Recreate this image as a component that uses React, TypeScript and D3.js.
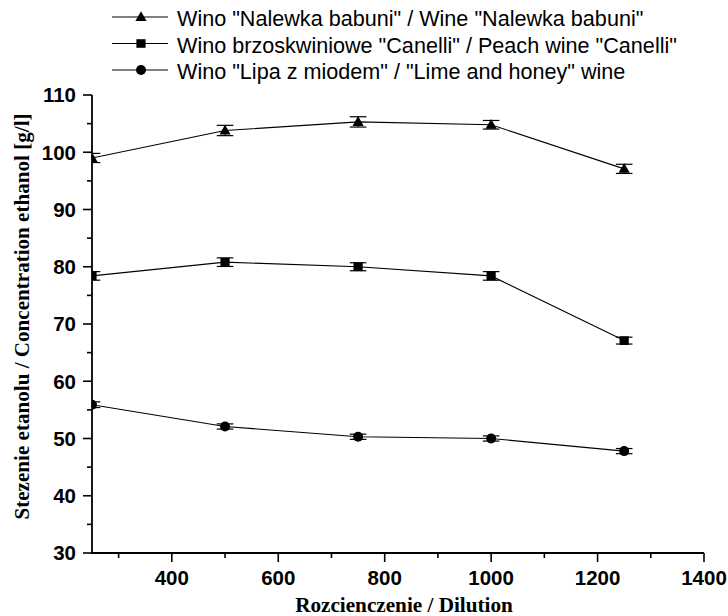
import React from "react";
import * as d3 from "d3";

const dilution = [250, 500, 750, 1000, 1250];
const nalewka = [99.0, 103.8, 105.3, 104.8, 97.1];
const nalewkaErr = [0.8, 0.9, 0.9, 0.75, 0.8];
const canelli = [78.4, 80.8, 80.0, 78.4, 67.1];
const canelliErr = [0.75, 0.75, 0.7, 0.75, 0.6];
const lipa = [55.9, 52.1, 50.3, 50.0, 47.8];
const lipaErr = [0.5, 0.45, 0.45, 0.45, 0.45];

const seriesNames = [
  'Wino "Nalewka babuni" / Wine "Nalewka babuni"',
  'Wino brzoskwiniowe "Canelli" / Peach wine "Canelli"',
  'Wino "Lipa z miodem" / "Lime and honey" wine',
];
const seriesShapes = ["triangle", "square", "circle"];

const xMajorTicks = [400, 600, 800, 1000, 1200, 1400];
const xMinorTicks = [300, 500, 700, 900, 1100, 1300];
const yMajorTicks = [30, 40, 50, 60, 70, 80, 90, 100, 110];
const yMinorTicks = [35, 45, 55, 65, 75, 85, 95, 105];

const xTitle = "Rozcienczenie / Dilution";
const yTitle = "Stezenie etanolu / Concentration ethanol [g/l]";

const W = 728;
const H = 616;
const left = 92;
const right = 704;
const top = 95;
const bottom = 553;

const x = d3.scaleLinear().domain([250, 1400]).range([left, right]);
const y = d3.scaleLinear().domain([30, 110]).range([bottom, top]);

const sans = "Arial, 'Liberation Sans', Helvetica, sans-serif";
const serif = "'Times New Roman', 'Liberation Serif', serif";

function Marker({ shape, cx, cy }: { shape: string; cx: number; cy: number }) {
  if (shape === "triangle") {
    return (
      <path
        d={`M${cx},${cy - 5.8} L${cx + 5.6},${cy + 4} L${cx - 5.6},${cy + 4} Z`}
        fill="#000"
      />
    );
  }
  if (shape === "square") {
    return <rect x={cx - 4.6} y={cy - 4.3} width={9.2} height={8.6} fill="#000" />;
  }
  return <circle cx={cx} cy={cy} r={5} fill="#000" />;
}

export default function App() {
  const series = [
    { values: nalewka, err: nalewkaErr, shape: seriesShapes[0] },
    { values: canelli, err: canelliErr, shape: seriesShapes[1] },
    { values: lipa, err: lipaErr, shape: seriesShapes[2] },
  ];
  const line = d3
    .line<number>()
    .x((_, i) => x(dilution[i]))
    .y((d) => y(d));

  const capHalf = 8.3;
  const legendY = [17, 43.5, 70];

  return (
    <svg
      width={W}
      height={H}
      viewBox={`0 0 ${W} ${H}`}
      style={{ position: "absolute", left: 0, top: 0, background: "#fff" }}
    >
      <defs>
        <clipPath id="plotClip">
          <rect x={left} y={0} width={right - left + 20} height={H} />
        </clipPath>
      </defs>

      {/* Legend */}
      {seriesNames.map((name, i) => {
        const ly = legendY[i];
        return (
          <g key={name}>
            <line x1={112} x2={168} y1={ly} y2={ly} stroke="#000" strokeWidth={1.2} />
            <Marker shape={seriesShapes[i]} cx={141} cy={ly} />
            <text x={177} y={ly + 9.3} fontFamily={sans} fontSize={21.6} fill="#000">
              {name}
            </text>
          </g>
        );
      })}

      {/* Data */}
      <g clipPath="url(#plotClip)">
        {series.map((s, si) => (
          <g key={si}>
            <path d={line(s.values) || ""} fill="none" stroke="#000" strokeWidth={1.1} />
            {s.values.map((v, i) => {
              const cx = x(dilution[i]);
              const y1 = y(v + s.err[i]);
              const y2 = y(v - s.err[i]);
              return (
                <g key={i}>
                  <line x1={cx} x2={cx} y1={y1} y2={y2} stroke="#000" strokeWidth={1.2} />
                  <line x1={cx - capHalf} x2={cx + capHalf} y1={y1} y2={y1} stroke="#000" strokeWidth={1.2} />
                  <line x1={cx - capHalf} x2={cx + capHalf} y1={y2} y2={y2} stroke="#000" strokeWidth={1.2} />
                  <Marker shape={s.shape} cx={cx} cy={y(v)} />
                </g>
              );
            })}
          </g>
        ))}
      </g>

      {/* Y axis */}
      <line x1={left} x2={left} y1={top} y2={bottom} stroke="#000" strokeWidth={1.8} />
      {yMajorTicks.map((t) => (
        <g key={t}>
          <line x1={left - 9} x2={left} y1={y(t)} y2={y(t)} stroke="#000" strokeWidth={1.6} />
          <text
            x={left - 16}
            y={y(t)}
            dy="0.36em"
            textAnchor="end"
            fontFamily={sans}
            fontWeight="bold"
            fontSize={20.5}
            fill="#000"
          >
            {t}
          </text>
        </g>
      ))}
      {yMinorTicks.map((t) => (
        <line key={t} x1={left - 5} x2={left} y1={y(t)} y2={y(t)} stroke="#000" strokeWidth={1.6} />
      ))}

      {/* X axis */}
      <line x1={left - 0.9} x2={right} y1={bottom} y2={bottom} stroke="#000" strokeWidth={1.8} />
      {xMajorTicks.map((t) => (
        <g key={t}>
          <line x1={x(t)} x2={x(t)} y1={bottom} y2={bottom + 9} stroke="#000" strokeWidth={1.6} />
          <text
            x={x(t)}
            y={bottom + 32}
            textAnchor="middle"
            fontFamily={sans}
            fontWeight="bold"
            fontSize={20.5}
            fill="#000"
          >
            {t}
          </text>
        </g>
      ))}
      {xMinorTicks.map((t) => (
        <line key={t} x1={x(t)} x2={x(t)} y1={bottom} y2={bottom + 5} stroke="#000" strokeWidth={1.6} />
      ))}

      {/* Axis titles */}
      <text
        x={404}
        y={612}
        textAnchor="middle"
        fontFamily={serif}
        fontWeight="bold"
        fontSize={21.2}
        fill="#000"
      >
        {xTitle}
      </text>
      <text
        transform={`translate(28.5, 316.5) rotate(-90)`}
        textAnchor="middle"
        fontFamily={serif}
        fontWeight="bold"
        fontSize={21.1}
        fill="#000"
      >
        {yTitle}
      </text>
    </svg>
  );
}
